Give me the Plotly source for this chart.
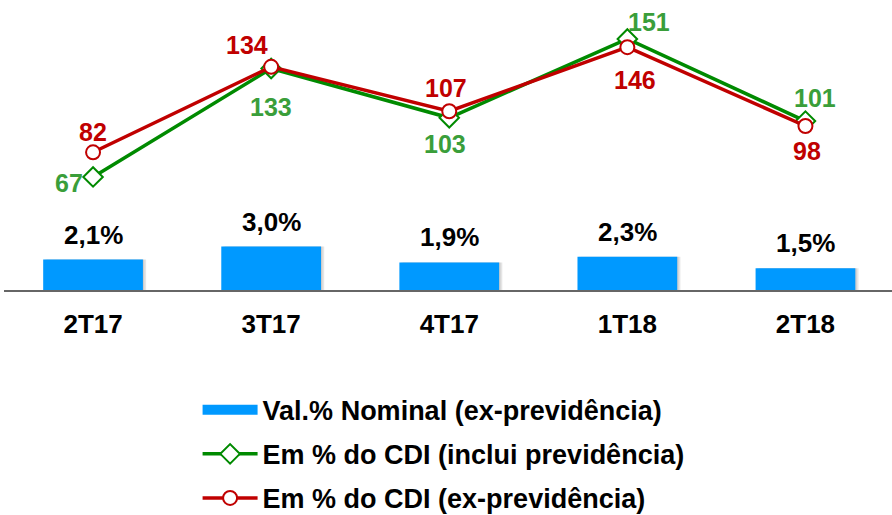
import plotly.graph_objects as go

categories = ["2T17", "3T17", "4T17", "1T18", "2T18"]
nominal = [2.1, 3.0, 1.9, 2.3, 1.5]
cdi_incl = [67, 133, 103, 151, 101]
cdi_ex = [82, 134, 107, 146, 98]

nominal_labels = ["2,1%", "3,0%", "1,9%", "2,3%", "1,5%"]

BLUE = "#0099FF"
GREEN = "#008A00"
GREEN_TXT = "#3A9E3A"
RED = "#C00000"
FONT = "Liberation Sans, Arial, sans-serif"

# label offsets (px) for line annotations
incl_shift = [(-24, -6), (0, -38), (-4, -26), (22, 17), (10, 23)]
ex_shift = [(0, 20), (-24, 22), (-3, 23), (8, -33), (2, -25)]

fig = go.Figure()

# soft shadow behind the bars
fig.add_trace(go.Bar(
    x=categories, y=nominal, yaxis="y", width=0.56, offset=-0.262,
    marker=dict(color="rgba(0,0,0,0.10)", line=dict(width=0)),
    showlegend=False, hoverinfo="skip",
))
fig.add_trace(go.Bar(
    x=categories, y=nominal, yaxis="y", width=0.56, offset=-0.272,
    marker=dict(color="rgba(0,0,0,0.10)", line=dict(width=0)),
    showlegend=False, hoverinfo="skip",
))
fig.add_trace(go.Bar(
    x=categories, y=nominal, yaxis="y", width=0.56,
    marker=dict(color=BLUE, line=dict(width=0)),
    name="Val.% Nominal (ex-previdência)", showlegend=False,
))
# legend proxy for the bar series (wide rectangle symbol)
fig.add_trace(go.Scatter(
    x=[None], y=[None], mode="lines", line=dict(color=BLUE, width=13),
    name="Val.% Nominal (ex-previdência)", legendgroup="a",
))
fig.add_trace(go.Scatter(
    x=categories, y=cdi_incl, yaxis="y2", mode="lines+markers",
    line=dict(color=GREEN, width=3.5),
    marker=dict(symbol="diamond", size=15, color="white", line=dict(color=GREEN, width=2)),
    name="Em % do CDI (inclui previdência)", legendgroup="b",
))
fig.add_trace(go.Scatter(
    x=categories, y=cdi_ex, yaxis="y2", mode="lines+markers",
    line=dict(color=RED, width=3.5),
    marker=dict(symbol="circle", size=14, color="white", line=dict(color=RED, width=2)),
    name="Em % do CDI (ex-previdência)", legendgroup="c",
))

annotations = []
for c, v, t in zip(categories, nominal, nominal_labels):
    annotations.append(dict(x=c, y=v, xref="x", yref="y", text=t, showarrow=False,
                            yshift=25, font=dict(family=FONT, size=26, color="black", weight="bold")))
for c, v, (dx, dy) in zip(categories, cdi_incl, incl_shift):
    annotations.append(dict(x=c, y=v, xref="x", yref="y2", text=str(v), showarrow=False,
                            xshift=dx, yshift=dy, font=dict(family=FONT, size=25, color=GREEN_TXT, weight="bold")))
for c, v, (dx, dy) in zip(categories, cdi_ex, ex_shift):
    annotations.append(dict(x=c, y=v, xref="x", yref="y2", text=str(v), showarrow=False,
                            xshift=dx, yshift=dy, font=dict(family=FONT, size=25, color=RED, weight="bold")))

fig.update_layout(
    width=892, height=515,
    margin=dict(l=4, r=0, t=0, b=225, autoexpand=False),
    paper_bgcolor="white", plot_bgcolor="white",
    barmode="overlay",
    font=dict(family=FONT, color="black"),
    xaxis=dict(range=[-0.5, 4.486], showgrid=False, zeroline=False,
               showline=True, linecolor="#666666", linewidth=1.5, ticks="",
               ticklabelstandoff=10,
               tickfont=dict(family=FONT, size=26, color="black", weight="bold")),
    yaxis=dict(range=[0, 20], visible=False, showgrid=False, zeroline=False),
    yaxis2=dict(range=[-1.83, 174.7], overlaying="y", visible=False, showgrid=False, zeroline=False),
    legend=dict(x=0.218, xanchor="left", y=-0.33, yanchor="top",
                font=dict(family=FONT, size=27, color="black", weight="bold"),
                itemwidth=55, tracegroupgap=6, traceorder="grouped",
                bgcolor="rgba(0,0,0,0)"),
    annotations=annotations,
    showlegend=True,
)

fig.write_html("out.html", config={"displayModeBar": False},
               post_script="document.body.style.margin='0';document.body.style.overflow='hidden';")
